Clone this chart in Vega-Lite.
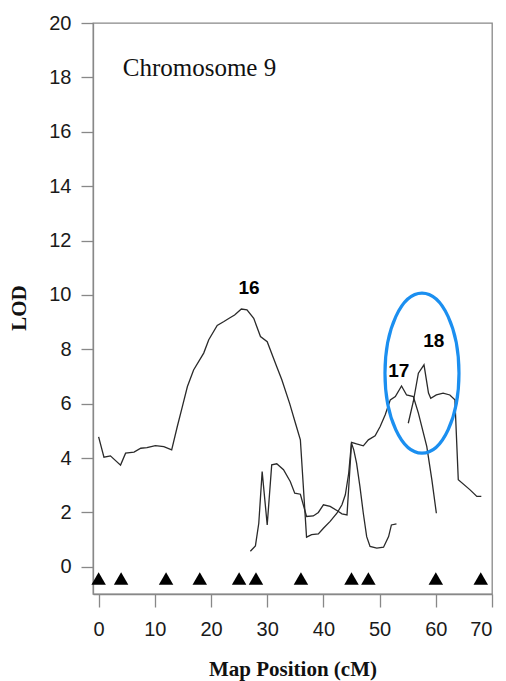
{
  "$schema": "https://vega.github.io/schema/vega-lite/v6.json",
  "width": 399,
  "height": 571,
  "autosize": {"type": "none"},
  "padding": {"left": 93, "top": 23, "right": 14, "bottom": 87},
  "background": "white",
  "config": {
    "view": {"stroke": "#888888", "strokeWidth": 1.3},
    "axis": {
      "grid": false,
      "domainColor": "#888888",
      "domainWidth": 1.3,
      "tickColor": "#888888",
      "tickWidth": 1.3,
      "labelFont": "Liberation Sans",
      "labelFontSize": 20,
      "labelColor": "#1a1a1a",
      "titleFont": "Liberation Serif",
      "titleFontWeight": "bold",
      "titleFontSize": 21,
      "titleColor": "#111111"
    }
  },
  "datasets": {
    "lod": [
      {"curve": "a", "pos": 0.0, "lod": 4.78},
      {"curve": "a", "pos": 0.95, "lod": 4.03},
      {"curve": "a", "pos": 2.1, "lod": 4.08},
      {"curve": "a", "pos": 3.9, "lod": 3.74},
      {"curve": "a", "pos": 4.8, "lod": 4.18},
      {"curve": "a", "pos": 6.3, "lod": 4.22},
      {"curve": "a", "pos": 7.5, "lod": 4.36},
      {"curve": "a", "pos": 8.6, "lod": 4.38},
      {"curve": "a", "pos": 10.1, "lod": 4.46},
      {"curve": "a", "pos": 11.6, "lod": 4.42},
      {"curve": "a", "pos": 13.0, "lod": 4.3},
      {"curve": "a", "pos": 14.0, "lod": 5.16},
      {"curve": "a", "pos": 14.9, "lod": 5.89},
      {"curve": "a", "pos": 15.8, "lod": 6.63},
      {"curve": "a", "pos": 16.9, "lod": 7.24},
      {"curve": "a", "pos": 18.7, "lod": 7.86},
      {"curve": "a", "pos": 19.6, "lod": 8.35},
      {"curve": "a", "pos": 21.1, "lod": 8.88},
      {"curve": "a", "pos": 22.3, "lod": 9.02},
      {"curve": "a", "pos": 23.3, "lod": 9.15},
      {"curve": "a", "pos": 24.2, "lod": 9.26},
      {"curve": "a", "pos": 25.4, "lod": 9.48},
      {"curve": "a", "pos": 26.4, "lod": 9.45},
      {"curve": "a", "pos": 27.6, "lod": 9.14},
      {"curve": "a", "pos": 28.8, "lod": 8.47},
      {"curve": "a", "pos": 30.0, "lod": 8.28},
      {"curve": "a", "pos": 31.7, "lod": 7.36},
      {"curve": "a", "pos": 32.6, "lod": 6.88},
      {"curve": "a", "pos": 34.0, "lod": 6.0},
      {"curve": "a", "pos": 35.0, "lod": 5.3},
      {"curve": "a", "pos": 35.9, "lod": 4.67},
      {"curve": "a", "pos": 37.0, "lod": 1.09},
      {"curve": "a", "pos": 37.9, "lod": 1.18},
      {"curve": "a", "pos": 39.1, "lod": 1.21},
      {"curve": "a", "pos": 40.0, "lod": 1.42},
      {"curve": "a", "pos": 41.2, "lod": 1.67},
      {"curve": "a", "pos": 42.4, "lod": 1.97},
      {"curve": "a", "pos": 43.3, "lod": 2.28},
      {"curve": "a", "pos": 43.9, "lod": 2.65},
      {"curve": "a", "pos": 44.5, "lod": 3.44},
      {"curve": "a", "pos": 45.0, "lod": 4.58},
      {"curve": "a", "pos": 45.9, "lod": 4.52},
      {"curve": "a", "pos": 47.1, "lod": 4.45},
      {"curve": "a", "pos": 48.0, "lod": 4.67},
      {"curve": "a", "pos": 49.2, "lod": 4.82},
      {"curve": "a", "pos": 50.1, "lod": 5.16},
      {"curve": "a", "pos": 51.0, "lod": 5.59},
      {"curve": "a", "pos": 51.9, "lod": 6.14},
      {"curve": "a", "pos": 52.8, "lod": 6.26},
      {"curve": "a", "pos": 53.9, "lod": 6.65},
      {"curve": "a", "pos": 54.8, "lod": 6.32},
      {"curve": "a", "pos": 56.0, "lod": 6.26},
      {"curve": "a", "pos": 56.9, "lod": 5.65},
      {"curve": "a", "pos": 58.4, "lod": 4.42},
      {"curve": "a", "pos": 59.3, "lod": 3.2},
      {"curve": "a", "pos": 60.1, "lod": 1.97},
      {"curve": "b", "pos": 27.0, "lod": 0.57},
      {"curve": "b", "pos": 27.9, "lod": 0.77},
      {"curve": "b", "pos": 28.5, "lod": 1.6},
      {"curve": "b", "pos": 29.1, "lod": 3.5},
      {"curve": "b", "pos": 30.0, "lod": 1.54},
      {"curve": "b", "pos": 30.8, "lod": 3.75},
      {"curve": "b", "pos": 31.7, "lod": 3.79},
      {"curve": "b", "pos": 32.9, "lod": 3.57},
      {"curve": "b", "pos": 34.1, "lod": 3.14},
      {"curve": "b", "pos": 34.9, "lod": 2.71},
      {"curve": "b", "pos": 35.9, "lod": 2.67},
      {"curve": "b", "pos": 37.0, "lod": 1.85},
      {"curve": "b", "pos": 38.2, "lod": 1.87},
      {"curve": "b", "pos": 39.1, "lod": 2.0},
      {"curve": "b", "pos": 40.0, "lod": 2.28},
      {"curve": "b", "pos": 41.2, "lod": 2.22},
      {"curve": "b", "pos": 42.4, "lod": 2.07},
      {"curve": "b", "pos": 43.3, "lod": 1.95},
      {"curve": "b", "pos": 44.2, "lod": 1.91},
      {"curve": "b", "pos": 45.0, "lod": 4.55},
      {"curve": "b", "pos": 45.4, "lod": 4.3},
      {"curve": "b", "pos": 45.9, "lod": 3.81},
      {"curve": "b", "pos": 46.5, "lod": 2.95},
      {"curve": "b", "pos": 47.1, "lod": 1.97},
      {"curve": "b", "pos": 47.7, "lod": 1.11},
      {"curve": "b", "pos": 48.3, "lod": 0.75},
      {"curve": "b", "pos": 49.5, "lod": 0.69},
      {"curve": "b", "pos": 50.7, "lod": 0.72},
      {"curve": "b", "pos": 51.6, "lod": 1.11},
      {"curve": "b", "pos": 52.1, "lod": 1.54},
      {"curve": "b", "pos": 53.0, "lod": 1.58},
      {"curve": "c", "pos": 55.1, "lod": 5.28},
      {"curve": "c", "pos": 56.0, "lod": 6.08},
      {"curve": "c", "pos": 56.9, "lod": 7.12},
      {"curve": "c", "pos": 57.9, "lod": 7.43},
      {"curve": "c", "pos": 58.7, "lod": 6.39},
      {"curve": "c", "pos": 59.1, "lod": 6.2},
      {"curve": "c", "pos": 60.1, "lod": 6.32},
      {"curve": "c", "pos": 61.3, "lod": 6.39},
      {"curve": "c", "pos": 62.5, "lod": 6.32},
      {"curve": "c", "pos": 63.4, "lod": 6.14},
      {"curve": "c", "pos": 64.0, "lod": 3.2},
      {"curve": "c", "pos": 66.1, "lod": 2.83},
      {"curve": "c", "pos": 67.3, "lod": 2.59},
      {"curve": "c", "pos": 68.1, "lod": 2.59}
    ],
    "markers": [
      {"pos": 0, "lod": -0.43},
      {"pos": 4, "lod": -0.43},
      {"pos": 12, "lod": -0.43},
      {"pos": 18, "lod": -0.43},
      {"pos": 25, "lod": -0.43},
      {"pos": 28, "lod": -0.43},
      {"pos": 36, "lod": -0.43},
      {"pos": 45, "lod": -0.43},
      {"pos": 48, "lod": -0.43},
      {"pos": 60, "lod": -0.43},
      {"pos": 68, "lod": -0.43}
    ],
    "qtl": [
      {"pos": 26.76, "lod": 10.24, "label": "16"},
      {"pos": 53.4, "lod": 7.21, "label": "17"},
      {"pos": 59.64, "lod": 8.31, "label": "18"}
    ],
    "heading": [
      {"pos": 4.29, "lod": 18.05, "label": "Chromosome 9"}
    ],
    "highlight": [
      {"pos": 57.54, "lod": 7.12}
    ]
  },
  "layer": [
    {
      "data": {"name": "lod"},
      "mark": {"type": "line", "color": "#2a2a2a", "strokeWidth": 1.3},
      "encoding": {
        "x": {
          "field": "pos",
          "type": "quantitative",
          "scale": {"domain": [-1, 70], "nice": false, "zero": false},
          "axis": {
            "values": [0, 10, 20, 30, 40, 50, 60, 70],
            "tickSize": 13,
            "labelPadding": 12,
            "title": "Map Position (cM)",
            "titleBaseline": "alphabetic",
            "titleY": 81
          }
        },
        "y": {
          "field": "lod",
          "type": "quantitative",
          "scale": {"domain": [-1, 20], "nice": false, "zero": false},
          "axis": {
            "values": [0, 2, 4, 6, 8, 10, 12, 14, 16, 18, 20],
            "tickSize": 12,
            "labelPadding": 10,
            "title": "LOD",
            "titleBaseline": "middle",
            "titleX": -74,
            "titleY": 284.5
          }
        },
        "detail": {"field": "curve"}
      }
    },
    {
      "data": {"name": "markers"},
      "mark": {"type": "point", "shape": "triangle-up", "filled": true, "color": "#000000", "size": 210, "opacity": 1},
      "encoding": {
        "x": {"field": "pos", "type": "quantitative"},
        "y": {"field": "lod", "type": "quantitative"}
      }
    },
    {
      "data": {"name": "qtl"},
      "mark": {"type": "text", "font": "Liberation Sans", "fontWeight": "bold", "fontSize": 19, "color": "#000000", "align": "center", "baseline": "middle"},
      "encoding": {
        "x": {"field": "pos", "type": "quantitative"},
        "y": {"field": "lod", "type": "quantitative"},
        "text": {"field": "label"}
      }
    },
    {
      "data": {"name": "heading"},
      "mark": {"type": "text", "font": "Liberation Serif", "fontSize": 25, "color": "#111111", "align": "left", "baseline": "alphabetic"},
      "encoding": {
        "x": {"field": "pos", "type": "quantitative"},
        "y": {"field": "lod", "type": "quantitative"},
        "text": {"field": "label"}
      }
    },
    {
      "data": {"name": "highlight"},
      "mark": {
        "type": "point",
        "shape": "M0,-1C0.2554,-1,0.4625,-0.5523,0.4625,0C0.4625,0.5523,0.2554,1,0,1C-0.2554,1,-0.4625,0.5523,-0.4625,0C-0.4625,-0.5523,-0.2554,-1,0,-1Z",
        "filled": false,
        "stroke": "#1b8ff0",
        "strokeWidth": 3.2,
        "size": 25600,
        "opacity": 1
      },
      "encoding": {
        "x": {"field": "pos", "type": "quantitative"},
        "y": {"field": "lod", "type": "quantitative"}
      }
    }
  ]
}
